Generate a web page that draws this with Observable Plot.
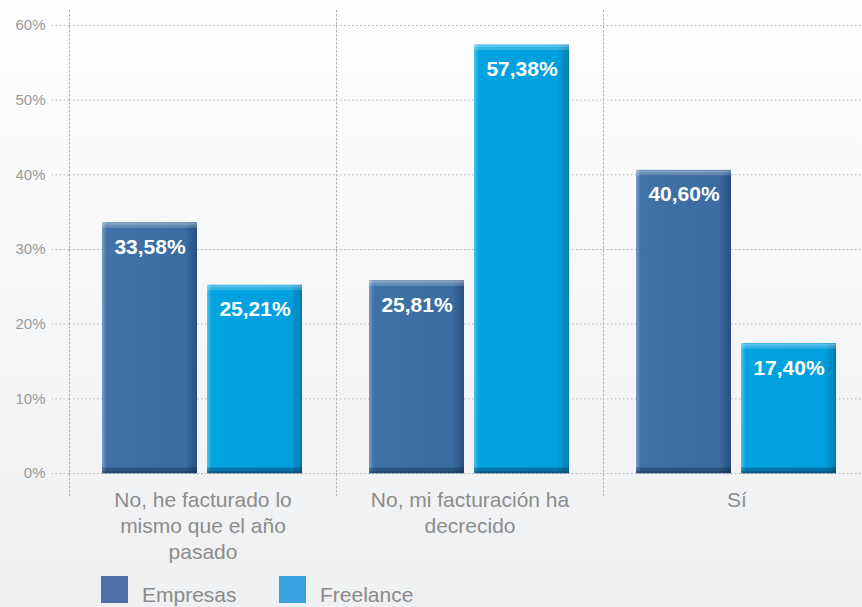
<!DOCTYPE html>
<html>
<head>
<meta charset="utf-8">
<script src="https://cdn.jsdelivr.net/npm/d3@7"></script>
<script src="https://cdn.jsdelivr.net/npm/@observablehq/plot@0.6"></script>
<style>
  html, body { margin: 0; padding: 0; }
  body {
    width: 862px; height: 607px; overflow: hidden;
    background: linear-gradient(to bottom, #ffffff 0%, #f7f8f9 40%, #eff0f2 100%);
    font-family: "Liberation Sans", Arial, sans-serif;
  }
  #legend { position: relative; height: 42px; }
  .sw { position: absolute; top: 11px; width: 27px; height: 27px; }
  .lt { position: absolute; top: 18px; font-size: 21px; color: #8a8a8a; line-height: 24px; }
</style>
</head>
<body>
<div id="chart"></div>
<div id="legend"></div>
<script>
const categories = ["No, he facturado lo mismo que el año pasado", "No, mi facturación ha decrecido", "Sí"];
const categoryLabels = ["No, he facturado lo\nmismo que el año\npasado", "No, mi facturación ha\ndecrecido", "Sí"];
const series = ["Empresas", "Freelance"];
const empresas = [33.58, 25.81, 40.60];
const freelance = [25.21, 57.38, 17.40];
const yTicks = [0, 10, 20, 30, 40, 50, 60];

const data = [];
categories.forEach((c, i) => {
  data.push({category: c, series: "Empresas", value: empresas[i]});
  data.push({category: c, series: "Freelance", value: freelance[i]});
});
const labelRows = categories.map((c, i) => ({category: c, label: categoryLabels[i]}));
const fmt = v => v.toFixed(2).replace(".", ",") + "%";

const grid = {stroke: "#b0b0b0", strokeDasharray: "1.5,2.5", strokeWidth: 1};

const chart = Plot.plot({
  width: 862,
  height: 565,
  marginTop: 25,
  marginBottom: 92,
  marginLeft: 69,
  marginRight: 0,
  style: {background: "transparent", fontFamily: "'Liberation Sans', Arial, sans-serif", overflow: "visible"},
  fx: {domain: categories, range: [69, 870], padding: 0, axis: null},
  x: {domain: series, paddingInner: 0.0943, paddingOuter: 0.307, align: 0.5, axis: null},
  y: {domain: [0, 60], axis: null},
  color: {domain: series, range: ["url(#gEmp)", "url(#gFree)"]},
  marks: [
    Plot.ruleY(yTicks, {y: d => d, ...grid}),
    Plot.frame({anchor: "left", insetTop: -15, insetBottom: -22, ...grid}),
    Plot.axisY(yTicks, {tickSize: 17, tickPadding: 7, tickFormat: d => d + "%", fontSize: 15, color: "#999", label: null, ...grid, fill: "#999", strokeWidth: 1}),
    Plot.barY(data, {fx: "category", x: "series", y: "value", fill: "series"}),
    Plot.tickY(data, {fx: "category", x: "series", y: "value", stroke: "white", strokeOpacity: 0.2, strokeWidth: 5, dy: 2.5}),
    Plot.tickY(data, {fx: "category", x: "series", y: "value", stroke: "white", strokeOpacity: 0.2, strokeWidth: 2, dy: 1}),
    Plot.tickY(data, {fx: "category", x: "series", y: 0, stroke: "#0b2540", strokeOpacity: 0.35, strokeWidth: 6, dy: -3}),
    Plot.tickY(data, {fx: "category", x: "series", y: 0, stroke: "#0b2540", strokeOpacity: 0.25, strokeWidth: 2.5, dy: -1.25}),
    Plot.text(data, {fx: "category", x: "series", y: "value", text: d => fmt(d.value), dy: 16, lineAnchor: "top", fill: "white", fontWeight: "bold", fontSize: 21}),
    Plot.text(labelRows, {fx: "category", text: "label", frameAnchor: "bottom", lineAnchor: "top", dy: 15, fontSize: 21, lineHeight: 1.24, fill: "#8c8c8c"})
  ]
});

d3.select(chart).insert("defs", ":first-child").html(`
  <linearGradient id="gEmp" x1="0" x2="1" y1="0" y2="0">
    <stop offset="0" stop-color="#7aa0c9"/>
    <stop offset="0.05" stop-color="#3f72a7"/>
    <stop offset="0.88" stop-color="#3a6ca1"/>
    <stop offset="0.97" stop-color="#2c5687"/>
    <stop offset="1" stop-color="#27507e"/>
  </linearGradient>
  <linearGradient id="gFree" x1="0" x2="1" y1="0" y2="0">
    <stop offset="0" stop-color="#4cc2ee"/>
    <stop offset="0.05" stop-color="#03a3e1"/>
    <stop offset="0.88" stop-color="#009fdd"/>
    <stop offset="0.97" stop-color="#0085bb"/>
    <stop offset="1" stop-color="#0077a8"/>
  </linearGradient>
`);

document.getElementById("chart").appendChild(chart);

const legendColors = ["#4f70a7", "#3aa3df"];
const legendX = [101, 279];
const legend = document.getElementById("legend");
series.forEach((s, i) => {
  const sw = document.createElement("div");
  sw.className = "sw";
  sw.style.left = legendX[i] + "px";
  sw.style.background = legendColors[i];
  legend.appendChild(sw);
  const t = document.createElement("div");
  t.className = "lt";
  t.style.left = (legendX[i] + 41) + "px";
  t.textContent = s;
  legend.appendChild(t);
});
</script>
</body>
</html>
